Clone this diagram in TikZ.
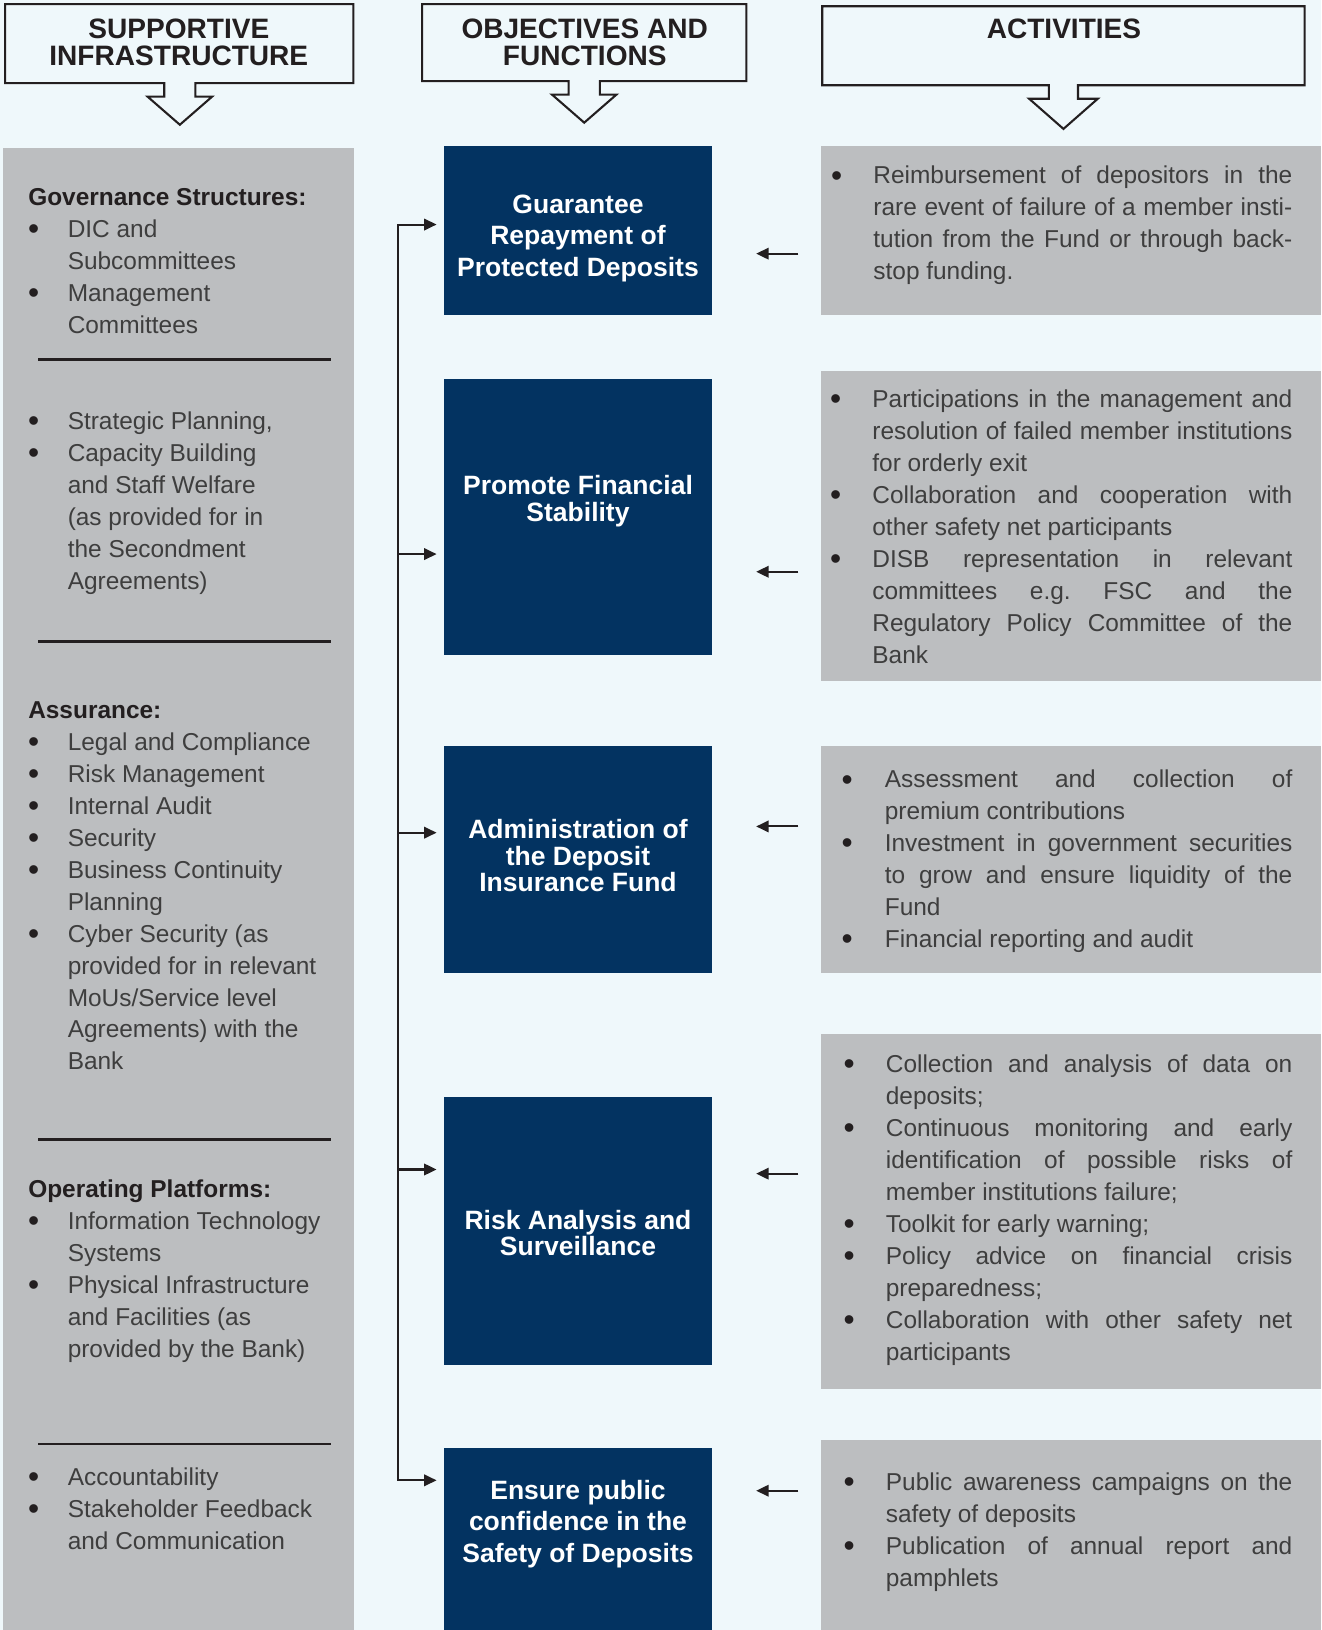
\documentclass[tikz,border=0pt]{standalone}
\usepackage{fontspec}
\setmainfont{Liberation Sans}
\usetikzlibrary{arrows.meta}
\definecolor{bgblue}{RGB}{239,248,251}
\definecolor{boxgray}{RGB}{188,190,192}
\definecolor{navy}{RGB}{3,51,97}
\definecolor{ink}{RGB}{35,31,32}
\definecolor{bodytxt}{RGB}{62,62,62}
\newcommand\bul[1]{\leavevmode\llap{\raisebox{-2pt}{\scalebox{1.3}{\color{ink}\textbullet}}\hspace{#1}}}
\newcommand\jline[1]{\makebox[\linewidth][s]{#1}\par}
\newcommand\hd[1]{{\bfseries\color{ink}#1}}
\begin{document}
\begin{tikzpicture}[x=1pt,y=-1pt,
  hdrbox/.style={draw=ink,line width=2pt,fill=bgblue,line join=miter},
  hdrtxt/.style={font=\bfseries\fontsize{27}{26}\selectfont,text=ink,align=center,anchor=base,inner sep=0pt},
  navybox/.style={fill=navy,draw=none,anchor=north west,inner sep=0pt,minimum width=258pt},
  navytxt/.style={text=white,align=center,anchor=base,inner sep=0pt},
  graybox/.style={fill=boxgray,draw=none,anchor=north west,inner sep=0pt},
  body/.style={font=\fontsize{23.5}{30.75}\selectfont,text=bodytxt,anchor=base west,inner sep=0pt},
  rulel/.style={draw=ink,line width=2.4pt},
  conn/.style={draw=ink,line width=2pt,line cap=rect},
  arr/.style={draw=ink,line width=2pt,-{Triangle[length=12pt,width=11pt]}}]
\useasboundingbox (0,0) rectangle (1271,1568);
\fill[bgblue] (0,0) rectangle (1271,1568);

% ---------- headers ----------
\draw[hdrbox] (5,4) -- (340,4) -- (340,80) -- (188,80) -- (188,93) -- (204,93) -- (173,120) -- (142,93) -- (158,93) -- (158,80) -- (5,80) -- cycle;
\draw[hdrbox] (406,4) -- (718,4) -- (718,78) -- (577,78) -- (577,91) -- (593,91) -- (562,118) -- (531,91) -- (547,91) -- (547,78) -- (406,78) -- cycle;
\draw[hdrbox] (791,6) -- (1255,6) -- (1255,82) -- (1037,82) -- (1037,95) -- (1056,95) -- (1023,124) -- (990,95) -- (1009,95) -- (1009,82) -- (791,82) -- cycle;
\node[hdrtxt] (h1) at (172,63) {SUPPORTIVE\\INFRASTRUCTURE};
\node[hdrtxt] (h2) at (562.5,63) {OBJECTIVES AND\\FUNCTIONS};
\node[hdrtxt] (h3) at (1023.5,37) {ACTIVITIES};

% ---------- left column ----------
\node[graybox,minimum width=337pt,minimum height=1426pt] (lc) at (3,142) {};
\node[body] (s1) at (65,198) {\parbox[t]{290pt}{%
\hspace*{-38pt}\hd{Governance Structures:}\par
\bul{27.5pt}DIC and\par
Subcommittees\par
\bul{27.5pt}Management\par
Committees}};
\draw[rulel] (37,346) -- (318,346);
\node[body] (s2) at (65,413) {\parbox[t]{290pt}{%
\bul{27.5pt}Strategic Planning,\par
\bul{27.5pt}Capacity Building\par
and Staff Welfare\par
(as provided for in\par
the Secondment\par
Agreements)}};
\draw[rulel] (37,617) -- (318,617);
\node[body] (s3) at (65,691) {\parbox[t]{290pt}{%
\hspace*{-38pt}\hd{Assurance:}\par
\bul{27.5pt}Legal and Compliance\par
\bul{27.5pt}Risk Management\par
\bul{27.5pt}Internal Audit\par
\bul{27.5pt}Security\par
\bul{27.5pt}Business Continuity\par
Planning\par
\bul{27.5pt}Cyber Security (as\par
provided for in relevant\par
MoUs/Service level\par
Agreements) with the\par
Bank}};
\draw[rulel] (37,1096) -- (318,1096);
\node[body] (s4) at (65,1152) {\parbox[t]{290pt}{%
\hspace*{-38pt}\hd{Operating Platforms:}\par
\bul{27.5pt}Information Technology\par
Systems\par
\bul{27.5pt}Physical Infrastructure\par
and Facilities (as\par
provided by the Bank)}};
\draw[rulel] (37,1389) -- (318,1389);
\node[body] (s5) at (65,1429) {\parbox[t]{290pt}{%
\bul{27.5pt}Accountability\par
\bul{27.5pt}Stakeholder Feedback\par
and Communication}};

% ---------- middle column ----------
\node[navybox,minimum height=163pt] (b1) at (427,140) {};
\node[navybox,minimum height=266pt] (b2) at (427,364) {};
\node[navybox,minimum height=219pt] (b3) at (427,717) {};
\node[navybox,minimum height=258pt] (b4) at (427,1055) {};
\node[navybox,minimum height=175pt] (b5) at (427,1393) {};
\node[navytxt,font=\bfseries\fontsize{25.5}{30.5}\selectfont] (t1) at (556,266) {Guarantee\\Repayment of\\Protected Deposits};
\node[navytxt,font=\bfseries\fontsize{25.5}{26}\selectfont] (t2) at (556,502) {Promote Financial\\Stability};
\node[navytxt,font=\bfseries\fontsize{25.5}{25.5}\selectfont] (t3) at (556,858) {Administration of\\the Deposit\\Insurance Fund};
\node[navytxt,font=\bfseries\fontsize{25.5}{25}\selectfont] (t4) at (556,1208) {Risk Analysis and\\Surveillance};
\node[navytxt,font=\bfseries\fontsize{25.5}{30.5}\selectfont] (t5) at (556,1503) {Ensure public\\confidence in the\\Safety of Deposits};

% ---------- right column ----------
\node[graybox,minimum width=481pt,minimum height=163pt] (r1) at (790,140) {};
\node[graybox,minimum width=481pt,minimum height=298pt] (r2) at (790,357) {};
\node[graybox,minimum width=481pt,minimum height=219pt] (r3) at (790,717) {};
\node[graybox,minimum width=481pt,minimum height=342pt] (r4) at (790,994) {};
\node[graybox,minimum width=481pt,minimum height=183pt] (r5) at (790,1385) {};

\node[body] (a1) at (840,177) {\parbox[t]{403pt}{%
\bul{30pt}\jline{Reimbursement of depositors in the}
\jline{rare event of failure of a member insti-}
\jline{tution from the Fund or through back-}
stop funding.}};
\node[body] (a2) at (839,392) {\parbox[t]{404pt}{%
\bul{30pt}\jline{Participations in the management and}
\jline{resolution of failed member institutions}
for orderly exit\par
\bul{30pt}\jline{Collaboration and cooperation with}
other safety net participants\par
\bul{30pt}\jline{DISB representation in relevant}
\jline{committees e.g.\ FSC and the}
\jline{Regulatory Policy Committee of the}
Bank}};
\node[body] (a3) at (851,758) {\parbox[t]{392pt}{%
\bul{31pt}\jline{Assessment and collection of}
premium contributions\par
\bul{31pt}\jline{Investment in government securities}
\jline{to grow and ensure liquidity of the}
Fund\par
\bul{31pt}Financial reporting and audit}};
\node[body] (a4) at (852,1032) {\parbox[t]{391pt}{%
\bul{30pt}\jline{Collection and analysis of data on}
deposits;\par
\bul{30pt}\jline{Continuous monitoring and early}
\jline{identification of possible risks of}
member institutions failure;\par
\bul{30pt}Toolkit for early warning;\par
\bul{30pt}\jline{Policy advice on financial crisis}
preparedness;\par
\bul{30pt}\jline{Collaboration with other safety net}
participants}};
\node[body] (a5) at (852,1434) {\parbox[t]{391pt}{%
\bul{30pt}\jline{Public awareness campaigns on the}
safety of deposits\par
\bul{30pt}\jline{Publication of annual report and}
pamphlets}};

% ---------- connectors ----------
\coordinate (c1) at (383,216);
\coordinate (c2) at (383,533);
\coordinate (c3) at (383,801);
\coordinate (c4) at (383,1125);
\coordinate (c5) at (383,1424);
\draw[conn] (c1) -- (c5);
\draw[arr,line cap=rect,shorten >=7pt] (c1) -- (c1 -| b1.west);
\draw[arr,line cap=rect,shorten >=7pt] (c2) -- (c2 -| b2.west);
\draw[arr,line cap=rect,shorten >=7pt] (c3) -- (c3 -| b3.west);
\draw[arr,line cap=rect,shorten >=7pt] (c4) -- (c4 -| b4.west);
\draw[arr,line cap=rect,shorten >=7pt] (c5) -- (c5 -| b5.west);

\coordinate (d1) at (768,244);
\coordinate (d2) at (768,550);
\coordinate (d3) at (768,795);
\coordinate (d4) at (768,1129);
\coordinate (d5) at (768,1434);
\draw[arr,shorten >=42pt] (d1) -- (d1 -| b1.east);
\draw[arr,shorten >=42pt] (d2) -- (d2 -| b2.east);
\draw[arr,shorten >=42pt] (d3) -- (d3 -| b3.east);
\draw[arr,shorten >=42pt] (d4) -- (d4 -| b4.east);
\draw[arr,shorten >=42pt] (d5) -- (d5 -| b5.east);
\end{tikzpicture}
\end{document}
